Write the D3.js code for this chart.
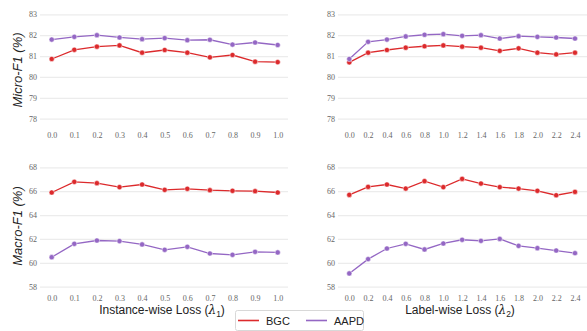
<!DOCTYPE html>
<html>
<head>
<meta charset="utf-8">
<script src="https://cdn.jsdelivr.net/npm/d3@7"></script>
<style>
  body { margin: 0; background: #fff; }
  .tick text { font-family: "Liberation Serif", serif; font-size: 8px; fill: #666; }
  .grid line { stroke: #ececec; stroke-width: 1.2; }
  .ytitle { font-family: "Liberation Sans", Arial, sans-serif; font-size: 13px; font-style: italic; fill: #222; }
  .xtitle { font-family: "Liberation Sans", Arial, sans-serif; font-size: 12px; fill: #222; }
  .legend text { font-family: "Liberation Sans", Arial, sans-serif; font-size: 11px; fill: #222; }
</style>
</head>
<body>
<div id="chart"></div>
<script>
// lambda values on x axis
const lambda1 = [0.0, 0.1, 0.2, 0.3, 0.4, 0.5, 0.6, 0.7, 0.8, 0.9, 1.0];
const lambda2 = [0.0, 0.2, 0.4, 0.6, 0.8, 1.0, 1.2, 1.4, 1.6, 1.8, 2.0, 2.2, 2.4];

// Micro-F1 vs instance-wise loss
const microBgc1 = [80.86, 81.30, 81.45, 81.51, 81.16, 81.29, 81.16, 80.94, 81.05, 80.73, 80.71];
const microAapd1 = [81.79, 81.92, 82.00, 81.89, 81.81, 81.86, 81.76, 81.78, 81.55, 81.65, 81.53];
// Micro-F1 vs label-wise loss
const microBgc2 = [80.70, 81.16, 81.29, 81.40, 81.47, 81.51, 81.45, 81.40, 81.25, 81.37, 81.16, 81.08, 81.16];
const microAapd2 = [80.86, 81.68, 81.79, 81.94, 82.02, 82.05, 81.97, 82.00, 81.84, 81.95, 81.92, 81.89, 81.84];
// Macro-F1 vs instance-wise loss
const macroBgc1 = [65.89, 66.78, 66.67, 66.34, 66.56, 66.11, 66.20, 66.08, 66.03, 66.00, 65.89];
const macroAapd1 = [60.47, 61.59, 61.87, 61.82, 61.54, 61.09, 61.34, 60.78, 60.67, 60.92, 60.87];
// Macro-F1 vs label-wise loss
const macroBgc2 = [65.69, 66.36, 66.56, 66.22, 66.84, 66.34, 67.03, 66.64, 66.34, 66.22, 66.03, 65.66, 65.94];
const macroAapd2 = [59.11, 60.31, 61.20, 61.59, 61.12, 61.62, 61.93, 61.84, 62.00, 61.42, 61.23, 61.03, 60.81];

const microTicks = [78, 79, 80, 81, 82, 83];
const macroTicks = [58, 60, 62, 64, 66, 68];

const seriesNames = ['BGC', 'AAPD'];
const colors = { BGC: '#dc2a2c', AAPD: '#9467c4' };

const width = 587, height = 331;
const svg = d3.select('#chart').append('svg')
  .attr('width', width)
  .attr('height', height);

const panels = [
  { xs: lambda1, xmax: 1.0, ticks: microTicks, ydom: [78, 83],
    left: 40, right: 288, xr: [51.7, 277.7], yr: [118.7, 14.3], xAxisY: 130,
    bgc: microBgc1, aapd: microAapd1 },
  { xs: lambda2, xmax: 2.4, ticks: microTicks, ydom: [78, 83],
    left: 338, right: 587, xr: [349.3, 575], yr: [118.7, 14.3], xAxisY: 130,
    bgc: microBgc2, aapd: microAapd2 },
  { xs: lambda1, xmax: 1.0, ticks: macroTicks, ydom: [58, 68],
    left: 40, right: 288, xr: [51.7, 277.7], yr: [286.7, 167.3], xAxisY: 293.5,
    bgc: macroBgc1, aapd: macroAapd1 },
  { xs: lambda2, xmax: 2.4, ticks: macroTicks, ydom: [58, 68],
    left: 338, right: 587, xr: [349.3, 575], yr: [286.7, 167.3], xAxisY: 293.5,
    bgc: macroBgc2, aapd: macroAapd2 }
];

panels.forEach(p => {
  const x = d3.scaleLinear().domain([0, p.xmax]).range(p.xr);
  const y = d3.scaleLinear().domain(p.ydom).range(p.yr);

  // y axis with gridlines
  const gy = svg.append('g')
    .attr('class', 'grid')
    .attr('transform', 'translate(' + p.left + ',0)')
    .call(d3.axisLeft(y).tickValues(p.ticks).tickSize(-(p.right - p.left)).tickPadding(3).tickFormat(d3.format('d')));
  gy.select('.domain').remove();

  // x axis labels
  const gx = svg.append('g')
    .attr('transform', 'translate(0,' + p.xAxisY + ')')
    .call(d3.axisBottom(x).tickValues(p.xs).tickSize(0).tickPadding(2).tickFormat(d3.format('.1f')));
  gx.select('.domain').remove();

  const line = d3.line()
    .x((d, i) => x(p.xs[i]))
    .y(d => y(d));

  [['BGC', p.bgc], ['AAPD', p.aapd]].forEach(([name, vals]) => {
    svg.append('path')
      .datum(vals)
      .attr('fill', 'none')
      .attr('stroke', colors[name])
      .attr('stroke-width', 1.3)
      .attr('d', line);

    svg.selectAll(null)
      .data(vals)
      .enter().append('circle')
      .attr('cx', (d, i) => x(p.xs[i]))
      .attr('cy', d => y(d))
      .attr('r', 2.6)
      .attr('fill', colors[name])
      .attr('stroke', '#fff')
      .attr('stroke-width', 0.5);
  });
});

// y axis titles
svg.append('text')
  .attr('class', 'ytitle')
  .attr('transform', 'translate(22,70) rotate(-90)')
  .attr('text-anchor', 'middle')
  .text('Micro-F1 (%)');

svg.append('text')
  .attr('class', 'ytitle')
  .attr('transform', 'translate(22,226) rotate(-90)')
  .attr('text-anchor', 'middle')
  .text('Macro-F1 (%)');

// x axis titles
function xTitle(cx, label, sub) {
  const t = svg.append('text')
    .attr('class', 'xtitle')
    .attr('x', cx)
    .attr('y', 314)
    .attr('text-anchor', 'middle');
  t.append('tspan').text(label + ' (');
  t.append('tspan').attr('font-family', 'DejaVu Serif, serif').attr('font-style', 'italic').text('λ');
  t.append('tspan').attr('font-size', '8.5px').attr('dy', 2.5).text(sub);
  t.append('tspan').attr('dy', -2.5).text(')');
}
xTitle(162, 'Instance-wise Loss', '1');
xTitle(460, 'Label-wise Loss', '2');

// legend
const lg = svg.append('g').attr('class', 'legend');
lg.append('rect')
  .attr('x', 235.5).attr('y', 310.5)
  .attr('width', 128).attr('height', 20)
  .attr('rx', 2)
  .attr('fill', '#fff')
  .attr('stroke', '#d8d8d8');

const legendItems = [
  { name: seriesNames[0], x: 238 },
  { name: seriesNames[1], x: 306 }
];
legendItems.forEach(it => {
  lg.append('line')
    .attr('x1', it.x).attr('x2', it.x + 21)
    .attr('y1', 320.5).attr('y2', 320.5)
    .attr('stroke', colors[it.name])
    .attr('stroke-width', 1.6);
  lg.append('text')
    .attr('x', it.x + 28)
    .attr('y', 324.5)
    .text(it.name);
});
</script>
</body>
</html>
